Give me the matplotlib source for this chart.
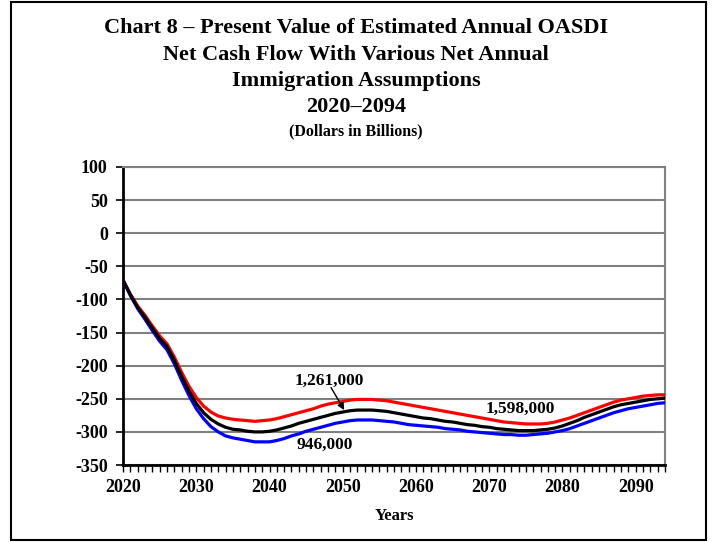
import matplotlib.pyplot as plt
from matplotlib.patches import Rectangle
from matplotlib.ticker import MultipleLocator

# Years 2020-2094
years = list(range(2020, 2095))

# Net annual immigration 1,598,000 (red)
high = [-71, -92, -110, -124, -140, -155, -167, -187, -210, -231,
        -248, -261, -270, -276, -279, -281, -282, -283, -284, -283,
        -282, -280, -277, -274, -271, -268, -265, -261, -258, -256,
        -254, -252, -251, -251, -251, -252, -253, -255, -257, -259,
        -261, -263, -265, -267, -269, -271, -273, -275, -277, -279,
        -281, -283, -285, -286, -287, -288, -288, -288, -287, -285,
        -282, -279, -275, -271, -267, -263, -259, -255, -252, -250,
        -248, -246, -245, -244, -244]

# Net annual immigration 1,261,000 (black)
mid = [-71, -93, -112, -127, -143, -159, -171, -192, -216, -238,
       -257, -271, -281, -288, -293, -296, -297, -299, -300, -300,
       -299, -297, -294, -291, -287, -284, -281, -278, -275, -272,
       -270, -268, -267, -267, -267, -268, -269, -271, -273, -275,
       -277, -279, -280, -282, -284, -285, -287, -289, -290, -292,
       -293, -295, -296, -297, -298, -298, -298, -297, -296, -294,
       -291, -287, -283, -278, -274, -270, -266, -262, -259, -257,
       -255, -253, -251, -250, -249]

# Net annual immigration 946,000 (blue)
low = [-71, -94, -114, -130, -147, -163, -176, -197, -222, -245,
       -265, -280, -292, -300, -306, -309, -311, -313, -315, -315,
       -315, -313, -310, -306, -303, -299, -296, -293, -290, -287,
       -285, -283, -282, -282, -282, -283, -284, -285, -287, -289,
       -290, -291, -292, -293, -295, -296, -297, -299, -300, -301,
       -302, -303, -304, -304, -305, -305, -304, -303, -302, -300,
       -298, -295, -291, -287, -283, -279, -275, -271, -268, -265,
       -263, -261, -259, -257, -256]

serif = ['Liberation Serif', 'DejaVu Serif']
plt.rcParams['font.family'] = serif
plt.rcParams['font.weight'] = 'bold'
plt.rcParams['axes.unicode_minus'] = False

fig = plt.figure(figsize=(7.12, 5.42), dpi=100)
ax = fig.add_axes([0.1728, 0.142, 0.7612, 0.55])

ax.plot(years, high, color='#ff0000', lw=2.3, zorder=3)
ax.plot(years, mid, color='black', lw=2.3, zorder=4)
ax.plot(years, low, color='#0000ff', lw=2.3, zorder=3)

ax.set_xlim(2020, 2094)
ax.set_ylim(-350, 100)
ax.set_xticks(range(2020, 2091, 10))
ax.xaxis.set_minor_locator(MultipleLocator(1))
ax.set_yticks(range(-350, 101, 50))
ax.grid(axis='y', color='#808080', lw=1.5, zorder=1)
ax.set_axisbelow(True)

for s in ['top', 'right']:
    ax.spines[s].set_color('#808080')
    ax.spines[s].set_linewidth(1.5)
for s in ['left', 'bottom']:
    ax.spines[s].set_color('black')
    ax.spines[s].set_linewidth(2)

ax.tick_params(axis='y', length=5, width=1.2, pad=6, labelsize=13)
ax.tick_params(axis='x', which='major', length=5, width=1.0, pad=5,
               labelsize=13)
ax.tick_params(axis='x', which='minor', length=5, width=1.0)
for lbl in ax.get_xticklabels() + ax.get_yticklabels():
    lbl.set_fontweight('bold')

ax.set_xlabel('Years', fontsize=12, fontweight='bold', labelpad=9)

# Series labels
ax.text(2048.2, -223, '1,261,000', ha='center', va='center', fontsize=12.5,
        fontweight='bold')
ax.annotate('', xy=(2050.2, -267), xytext=(2048.4, -233),
            arrowprops=dict(arrowstyle='-|>', color='black', lw=1,
                            shrinkA=0, shrinkB=0, mutation_scale=10),
            zorder=6)
ax.text(2047.5, -320, '946,000', ha='center', va='center', fontsize=12.5,
        fontweight='bold')
ax.text(2074.2, -265, '1,598,000', ha='center', va='center', fontsize=12.5,
        fontweight='bold')

# Titles
fig.text(0.5, 0.949, 'Chart 8 \u2013 Present Value of Estimated Annual OASDI',
         ha='center', va='center', fontsize=16, fontweight='bold')
fig.text(0.5, 0.898, 'Net Cash Flow With Various Net Annual',
         ha='center', va='center', fontsize=16, fontweight='bold')
fig.text(0.5, 0.850, 'Immigration Assumptions',
         ha='center', va='center', fontsize=16, fontweight='bold')
fig.text(0.5, 0.802, '2020\u20132094',
         ha='center', va='center', fontsize=16, fontweight='bold')
fig.text(0.5, 0.757, '(Dollars in Billions)',
         ha='center', va='center', fontsize=11.5, fontweight='bold')

# Outer frame
fig.patches.append(Rectangle((0.016, 0.004), 0.976, 0.992,
                             transform=fig.transFigure, fill=False,
                             edgecolor='black', lw=1.5))

fig.savefig('out.png', dpi=100)
